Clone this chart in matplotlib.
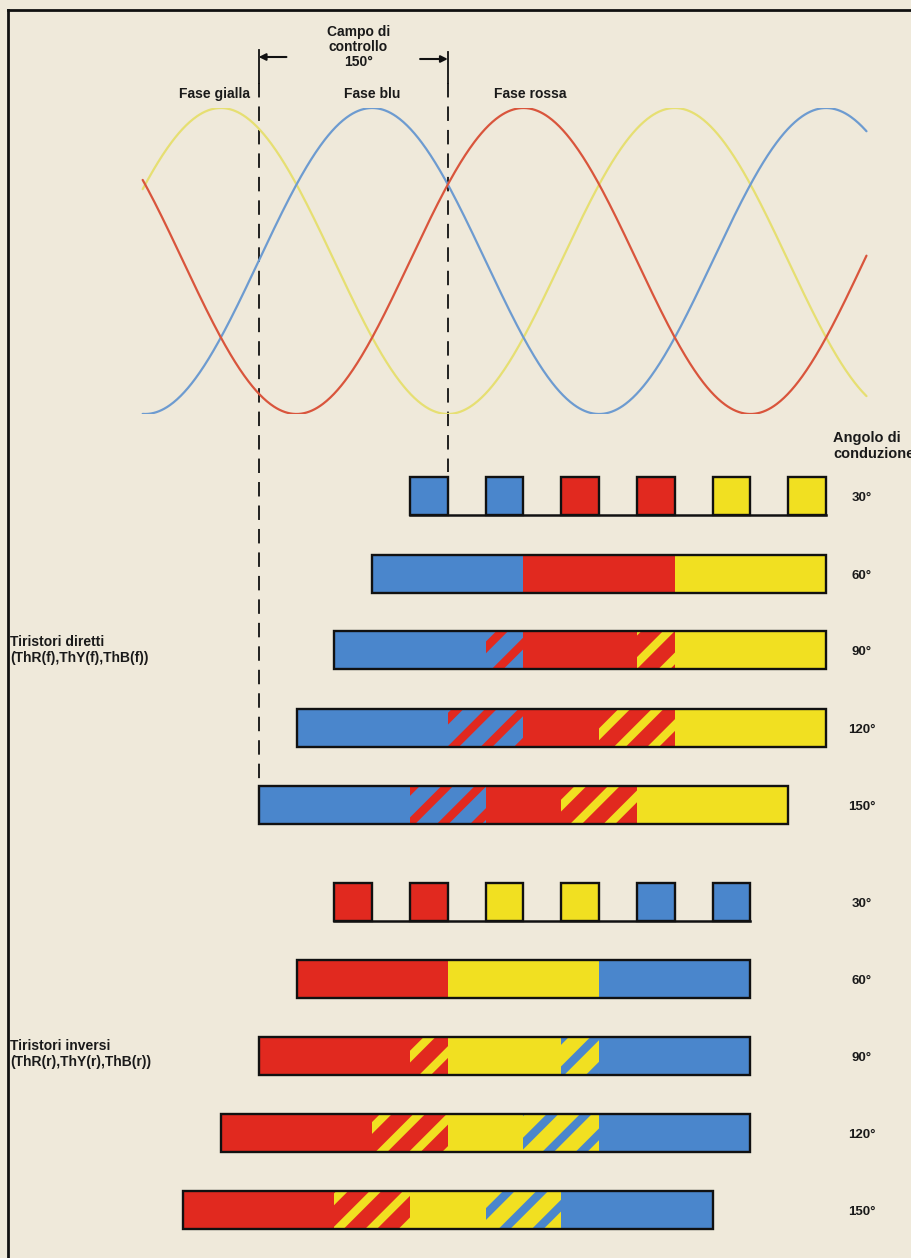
import numpy as np
import matplotlib
matplotlib.use("Agg")
import matplotlib.pyplot as plt
from matplotlib.lines import Line2D

plt.rcParams['hatch.linewidth'] = 6.0
plt.rcParams['font.family'] = ['Liberation Sans', 'DejaVu Sans']

# ---------------- data ----------------
# three-phase waves (degrees of the peak of each phase)
wave_labels = ["Fase gialla", "Fase blu", "Fase rossa"]
wave_keys = ["Y", "B", "R"]
wave_peak_deg = [-150, -30, 90]
wave_label_deg = [-155, -30, 95]
wave_start_deg, wave_end_deg = -212, 362

control_start, control_end = -120, 30
control_text = "Campo di\ncontrollo\n150°"

conduction_labels = ["30°", "60°", "90°", "120°", "150°"]

# direct thyristors: 30° row pulses
dir_pulse_start = [0, 60, 120, 180, 240, 300]
dir_pulse_phase = ["B", "B", "R", "R", "Y", "Y"]
# direct thyristors rows 60°..150°: conduction interval of each phase (order B, R, Y)
dir_order = ["B", "R", "Y"]
dir_B_start = [-30, -60, -90, -120]
dir_B_end = [90, 90, 90, 60]
dir_R_start = [90, 60, 30, 0]
dir_R_end = [210, 210, 210, 180]
dir_Y_start = [210, 180, 150, 120]
dir_Y_end = [330, 330, 330, 300]

# inverse thyristors: 30° row pulses
inv_pulse_start = [-60, 0, 60, 120, 180, 240]
inv_pulse_phase = ["R", "R", "Y", "Y", "B", "B"]
# inverse thyristors rows 60°..150° (order R, Y, B)
inv_order = ["R", "Y", "B"]
inv_R_start = [-90, -120, -150, -180]
inv_R_end = [30, 30, 30, 0]
inv_Y_start = [30, 0, -30, -60]
inv_Y_end = [150, 150, 150, 120]
inv_B_start = [150, 120, 90, 60]
inv_B_end = [270, 270, 270, 240]
pulse_width = 30

group_labels = ["Tiristori diretti\n(ThR(f),ThY(f),ThB(f))",
                "Tiristori inversi\n(ThR(r),ThY(r),ThB(r))"]

# ---------------- style / layout ----------------
W, H = 912, 1258
BG = "#efe9da"
INK = "#1a1a1a"
BAR_C = {"B": "#4a86cc", "R": "#e1291f", "Y": "#f1e021"}
WAVE_C = {"B": "#6d9bd0", "R": "#d9553c", "Y": "#e6df72"}
X0_PX, PX_PER_DEG = 410, 1.261
xlim = (-X0_PX / PX_PER_DEG, (W - X0_PX) / PX_PER_DEG)

dir_rows_y = [496, 574, 650, 728, 805]
inv_rows_y = [902, 979, 1056, 1133, 1210]
bar_h = 38
label_x_px = 862
FS = 10

fig = plt.figure(figsize=(W / 100, H / 100), dpi=100)
fig.patch.set_facecolor(BG)

ax = fig.add_axes([0, 0, 1, 1])
ax.set_xlim(*xlim)
ax.set_ylim(H, 0)
ax.axis("off")
ax.patch.set_alpha(0)

wave_top, wave_bot = 108, 414
axs = fig.add_axes([0, 1 - wave_bot / H, 1, (wave_bot - wave_top) / H])
axs.set_xlim(*xlim)
axs.set_ylim(-1, 1)
axs.axis("off")
axs.patch.set_alpha(0)

# ---------------- waves ----------------
t = np.linspace(wave_start_deg, wave_end_deg, 800)
for key, pk in zip(wave_keys, wave_peak_deg):
    axs.plot(t, np.cos(np.radians(t - pk)), color=WAVE_C[key], lw=1.6,
             solid_capstyle="round")
for lab, xd in zip(wave_labels, wave_label_deg):
    ax.text(xd, 94, lab, ha="center", va="center", fontsize=FS,
            fontweight="bold", color=INK)

# ---------------- bars ----------------
def draw_rows(rows_y, pulse_start, pulse_phase, order, starts, ends):
    # 30° pulses
    y = rows_y[0]
    for s, ph in zip(pulse_start, pulse_phase):
        ax.barh(y, pulse_width, left=s, height=bar_h, color=BAR_C[ph],
                edgecolor="#111111", linewidth=1.7, zorder=3)
    ax.plot([pulse_start[0], pulse_start[-1] + pulse_width],
            [y + bar_h / 2, y + bar_h / 2], color="#111111", lw=1.8, zorder=2)
    # wider conduction rows
    for r, y in enumerate(rows_y[1:]):
        st = [starts[k][r] for k in range(3)]
        en = [ends[k][r] for k in range(3)]
        for k in range(3):
            a = st[k] if k == 0 else max(st[k], en[k - 1])
            b = en[k] if k == 2 else min(en[k], st[k + 1])
            ax.barh(y, b - a, left=a, height=bar_h, color=BAR_C[order[k]],
                    linewidth=0, zorder=3)
            if k < 2 and st[k + 1] < en[k]:
                ax.barh(y, en[k] - st[k + 1], left=st[k + 1], height=bar_h,
                        color=BAR_C[order[k]], edgecolor=BAR_C[order[k + 1]],
                        hatch="/", linewidth=0, zorder=3)
        ax.barh(y, en[2] - st[0], left=st[0], height=bar_h, color="none",
                edgecolor="#111111", linewidth=1.7, zorder=4)

draw_rows(dir_rows_y, dir_pulse_start, dir_pulse_phase, dir_order,
          [dir_B_start, dir_R_start, dir_Y_start], [dir_B_end, dir_R_end, dir_Y_end])
draw_rows(inv_rows_y, inv_pulse_start, inv_pulse_phase, inv_order,
          [inv_R_start, inv_Y_start, inv_B_start], [inv_R_end, inv_Y_end, inv_B_end])

# conduction angle labels
label_x = (label_x_px - X0_PX) / PX_PER_DEG
for rows in (dir_rows_y, inv_rows_y):
    for y, lab in zip(rows, conduction_labels):
        ax.text(label_x, y + 2, lab, ha="center", va="center", fontsize=9.5,
                fontweight="bold", color=INK)
ax.text((833 - X0_PX) / PX_PER_DEG, 446, "Angolo di\nconduzione", ha="left",
        va="center", fontsize=10.5, fontweight="bold", color=INK,
        linespacing=1.1, clip_on=False)

# group labels
fig.text(10 / W, 1 - 650 / H, group_labels[0], ha="left", va="center",
         fontsize=10, fontweight="bold", color=INK, linespacing=1.2)
fig.text(10 / W, 1 - 1054 / H, group_labels[1], ha="left", va="center",
         fontsize=10, fontweight="bold", color=INK, linespacing=1.2)

# ---------------- control range ----------------
ax.plot([control_start] * 2, [50, 83], color="#111111", lw=1.3, zorder=5)
ax.plot([control_start] * 2, [83, dir_rows_y[-1] - bar_h / 2], color="#111111",
        lw=1.3, ls=(0, (8, 5)), zorder=5)
ax.plot([control_end] * 2, [52, 83], color="#111111", lw=1.3, zorder=5)
ax.plot([control_end] * 2, [83, dir_rows_y[0] - bar_h / 2 - 5], color="#111111",
        lw=1.3, ls=(0, (8, 5)), zorder=5)
ax.annotate("", xy=(control_start, 57), xytext=(control_start + 22, 57),
            arrowprops=dict(arrowstyle="-|>", color="#111111", lw=1.5,
                            mutation_scale=10, shrinkA=0, shrinkB=0))
ax.annotate("", xy=(control_end, 59), xytext=(control_end - 22, 59),
            arrowprops=dict(arrowstyle="-|>", color="#111111", lw=1.5,
                            mutation_scale=10, shrinkA=0, shrinkB=0))
ax.text((control_start + control_end) / 2 + 4, 47, control_text, ha="center",
        va="center", fontsize=FS, fontweight="bold", color=INK,
        linespacing=1.05)

# ---------------- frame ----------------
fig.add_artist(Line2D([8 / W, 8 / W], [0, 1 - 10 / H], color="#111111", lw=2.0))
fig.add_artist(Line2D([8 / W, 1], [1 - 10 / H, 1 - 10 / H], color="#111111", lw=2.0))

fig.savefig("out.png", dpi=100, facecolor=BG)
